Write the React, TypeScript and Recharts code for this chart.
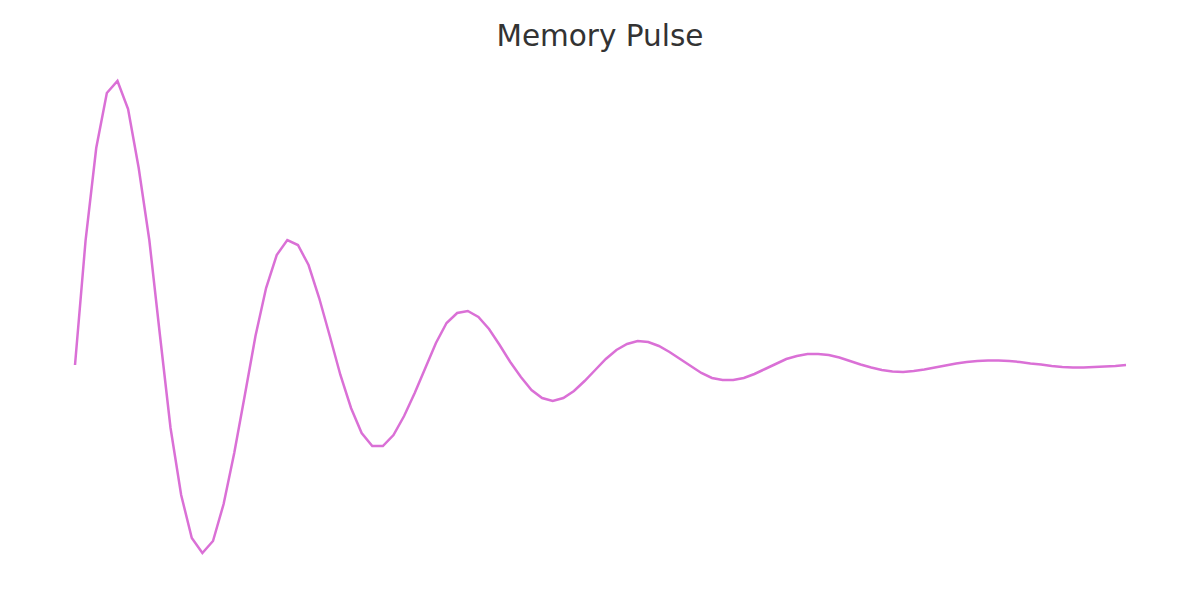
import { LineChart, Line, XAxis, YAxis } from 'recharts';

// sample index along the pulse
const steps = Array.from({ length: 100 }, (_, i) => i);

// signal values
const pulse = [
  0, 1.25, 2.17, 2.72, 2.84, 2.56, 1.97, 1.25, 0.3, -0.63,
  -1.3, -1.73, -1.88, -1.76, -1.39, -0.88, -0.3, 0.29, 0.77, 1.1,
  1.25, 1.2, 1.0, 0.67, 0.29, -0.1, -0.43, -0.68, -0.81, -0.81,
  -0.7, -0.51, -0.28, -0.03, 0.22, 0.42, 0.52, 0.54, 0.48, 0.36,
  0.2, 0.03, -0.12, -0.25, -0.33, -0.36, -0.33, -0.26, -0.16, -0.05,
  0.06, 0.15, 0.21, 0.24, 0.23, 0.19, 0.13, 0.06, -0.01, -0.08,
  -0.13, -0.15, -0.15, -0.13, -0.09, -0.04, 0.01, 0.06, 0.09, 0.11,
  0.11, 0.1, 0.075, 0.04, 0.005, -0.025, -0.05, -0.065, -0.07, -0.06,
  -0.045, -0.025, -0.005, 0.015, 0.03, 0.04, 0.045, 0.045, 0.04, 0.03,
  0.015, 0.005, -0.01, -0.02, -0.025, -0.025, -0.02, -0.015, -0.01, 0,
];

const data = steps.map((step, i) => ({ step, value: pulse[i] }));

export default function App() {
  return (
    <div style={{ position: 'absolute', left: 0, top: 0, width: 1200, height: 600, background: '#fff' }}>
      <div
        style={{
          position: 'absolute',
          top: 18,
          width: 1200,
          textAlign: 'center',
          fontFamily: '"DejaVu Sans", sans-serif',
          fontSize: 29.5,
          lineHeight: '36px',
          color: '#333333',
        }}
      >
        Memory Pulse
      </div>
      <LineChart width={1200} height={600} data={data} margin={{ top: 60, right: 74, bottom: 30, left: 75 }}>
        <XAxis dataKey="step" hide />
        <YAxis hide domain={[-2.05, 3.05]} />
        <Line
          type="linear"
          dataKey="value"
          stroke="#DA70D6"
          strokeWidth={2.5}
          dot={false}
          isAnimationActive={false}
        />
      </LineChart>
    </div>
  );
}
